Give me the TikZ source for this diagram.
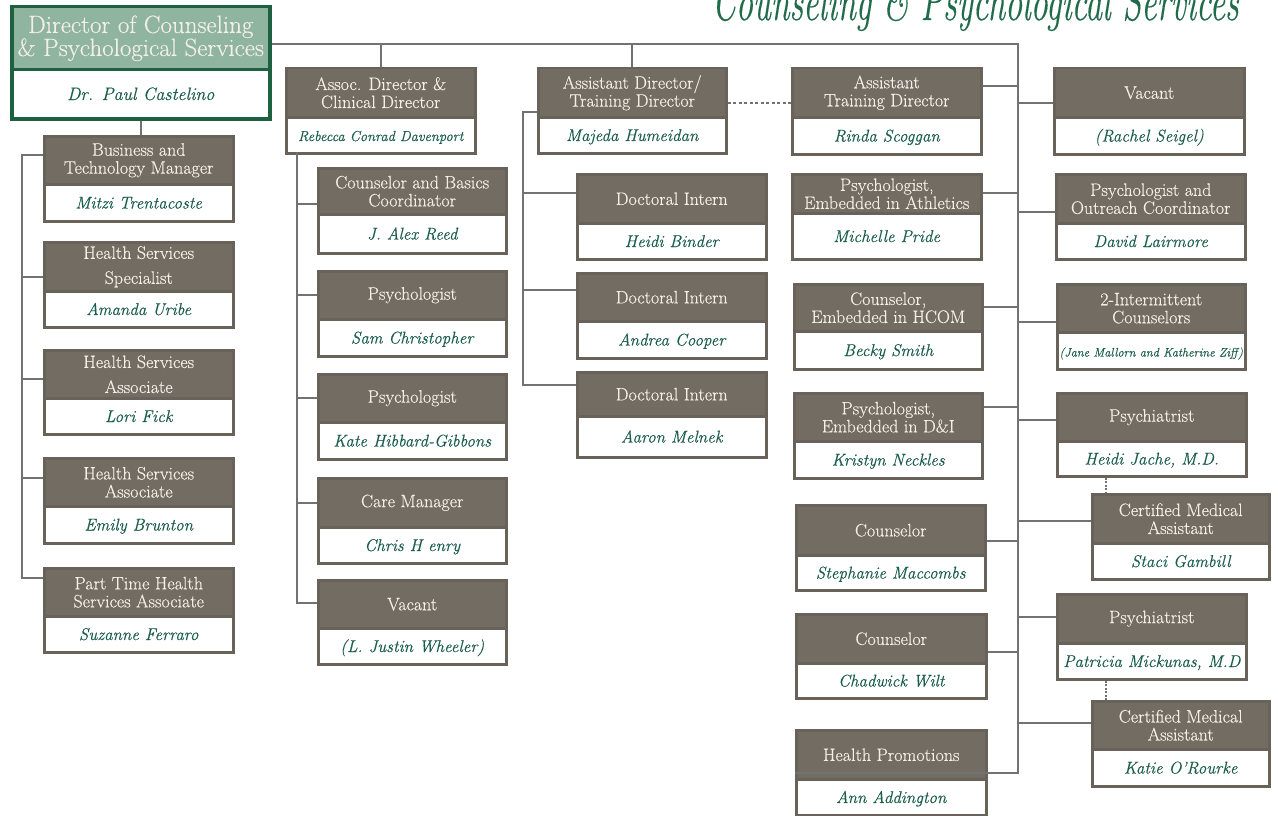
\documentclass[tikz,border=0pt]{standalone}
\usepackage{fontspec}
\newfontfamily\boxfont{Latin Modern Roman}[FakeBold=0.35]
\usetikzlibrary{calc}
\definecolor{boxd}{HTML}{736C63}
\definecolor{boxb}{HTML}{69625A}
\definecolor{headt}{HTML}{F3EFE6}
\definecolor{namet}{HTML}{1B5E4B}
\definecolor{linec}{HTML}{727272}
\definecolor{dirg}{HTML}{1D6140}
\definecolor{dirf}{HTML}{8FB49F}
\definecolor{titleg}{HTML}{1F6B4A}
\newcommand\orgbox[9][]{%
  \node[boxo, minimum width={(#5-#3)*1pt}, minimum height={(#7-#4)*1pt}] (#2) at (#3,#4) {};
  \node[boxh, minimum width={(#5-#3)*1pt}, minimum height={(#6-#4)*1pt}] (#2h) at (#3,#4) {};
  \node[htext] (#2t) at (#2h.center) {#8};
  \node[ntext,#1] (#2n) at ($(#2h.south)!0.5!(#2.south)$) {#9};
}
\begin{document}
\begin{tikzpicture}[x=1pt,y=-1pt,
  line/.style={draw=linec, line width=2pt},
  boxo/.style={draw=boxb, line width=2.5pt, fill=white, inner sep=0pt, anchor=north west},
  boxh/.style={draw=boxb, line width=2.5pt, fill=boxd, inner sep=0pt, anchor=north west},
  htext/.style={text=headt, font=\boxfont\fontsize{18}{18}\selectfont, align=center, inner sep=0pt},
  ntext/.style={text=namet, font=\boxfont\fontsize{17}{18}\selectfont\itshape, inner sep=0pt, text height=12pt, text depth=3pt},
  nsmall/.style={font=\boxfont\fontsize{14.5}{15}\selectfont\itshape},
  ntiny/.style={font=\boxfont\fontsize{12.3}{13}\selectfont\itshape},
  dirbox/.style={draw=dirg, line width=3.5pt, fill=white, inner sep=0pt, anchor=north west},
  dirhead/.style={draw=dirg, line width=3.5pt, fill=dirf, inner sep=0pt, anchor=north west},
  dirt/.style={text=headt, font=\boxfont\fontsize{25}{23}\selectfont, align=center, inner sep=0pt},
  dirn/.style={text=namet, font=\boxfont\fontsize{18}{20}\selectfont\itshape, inner sep=0pt, text height=12pt, text depth=4pt},
  titlestyle/.style={text=titleg, font=\boxfont\fontsize{54}{54}\selectfont\itshape, inner sep=0pt, xscale=0.63, anchor=base west}
]
\useasboundingbox (0,0) rectangle (1278,816);
\fill[white] (0,0) rectangle (1278,816);

% title (cut off at the top)
\node[titlestyle] (title) at (712,20) {Counseling \& Psychological Services};

% director
\node[dirbox, minimum width=258pt, minimum height=112pt] (dir) at (10,5) {};
\node[dirhead, minimum width=258pt, minimum height=63pt] (dirh) at (10,5) {};
\node[dirt] (dirt) at (dirh.center) {Director of Counseling\\\& Psychological Services};
\node[dirn] (dirn) at ($(dirh.south)!0.5!(dir.south)$) {Dr. Paul Castelino};

% column 1
\orgbox{bt}{43}{135}{232}{183}{220}{Business and\\Technology Manager}{Mitzi Trentacoste}
\orgbox{hss}{43}{241}{232}{290}{326}{Health Services\\[7pt]Specialist}{Amanda Uribe}
\orgbox{hsa1}{43}{349}{232}{397}{433}{Health Services\\[7pt]Associate}{Lori Fick}
\orgbox{hsa2}{43}{457}{232}{505}{542}{Health Services\\Associate}{Emily Brunton}
\orgbox{pt}{43}{567}{232}{615}{651}{Part Time Health\\Services Associate}{Suzanne Ferraro}

% column 2
\orgbox[nsmall]{ad}{285}{67}{474}{116}{152}{Assoc. Director \&\\Clinical Director}{Rebecca Conrad Davenport}
\orgbox{cb}{317}{167}{505}{213}{252}{Counselor and Basics\\Coordinator}{J. Alex Reed}
\orgbox{sc}{317}{270}{505}{318}{355}{Psychologist}{Sam Christopher}
\orgbox{kh}{317}{373}{505}{421}{458}{Psychologist}{Kate Hibbard-Gibbons}
\orgbox{cm}{317}{477}{505}{526}{562}{Care Manager}{Chris H enry}
\orgbox{v2}{317}{579}{505}{627}{663}{Vacant}{(L. Justin Wheeler)}

% column 3
\orgbox{asd}{537}{67}{725}{116}{152}{Assistant Director/\\Training Director}{Majeda Humeidan}
\orgbox{di1}{576}{173}{765}{222}{258}{Doctoral Intern}{Heidi Binder}
\orgbox{di2}{576}{272}{765}{320}{357}{Doctoral Intern}{Andrea Cooper}
\orgbox{di3}{576}{371}{765}{415}{456}{Doctoral Intern}{Aaron Melnek}

% column 4
\orgbox{atd}{791}{67}{980}{116}{153}{Assistant\\Training Director}{Rinda Scoggan}
\orgbox{ath}{791}{173}{980}{212}{258}{Psychologist,\\Embedded in Athletics}{Michelle Pride}
\orgbox{hc}{793}{283}{981}{330}{368}{Counselor,\\Embedded in HCOM}{Becky Smith}
\orgbox{dni}{793}{392}{981}{440}{477}{Psychologist,\\Embedded in D\&I}{Kristyn Neckles}
\orgbox{co1}{795}{504}{984}{554}{589}{Counselor}{Stephanie Maccombs}
\orgbox{co2}{795}{613}{985}{662}{697}{Counselor}{Chadwick Wilt}
\orgbox{hp}{795}{729}{985}{778}{814}{Health Promotions}{Ann Addington}

% column 5
\orgbox{vac}{1053}{67}{1243}{116}{153}{Vacant}{(Rachel Seigel)}
\orgbox{oc}{1055}{173}{1244}{222}{258}{Psychologist and\\Outreach Coordinator}{David Lairmore}
\orgbox[ntiny]{ic}{1056}{283}{1244}{331}{368}{2-Intermittent\\Counselors}{(Jane Mallorn and Katherine Ziff)}
\orgbox{py1}{1056}{392}{1245}{440}{475}{Psychiatrist}{Heidi Jache, M.D.}
\orgbox{cma1}{1091}{493}{1268}{542}{578}{Certified Medical\\Assistant}{Staci Gambill}
\orgbox{py2}{1056}{593}{1245}{642}{678}{Psychiatrist}{Patricia Mickunas, M.D}
\orgbox{cma2}{1091}{700}{1268}{748}{785}{Certified Medical\\Assistant}{Katie O’Rourke}

% connectors
\coordinate (busR) at (1018,44);
\coordinate (busL) at (22,155);
\coordinate (busA) at (297,152);
\coordinate (busM) at (523,112);

\draw[line] (dir.east |- busR) -- (busR) |- (hp.west);
\draw[line] (ad.north) -- (ad.north |- busR);
\draw[line] (asd.north) -- (asd.north |- busR);
\draw[line] (atd.east |- 0,86) -- (busR |- 0,86);
\draw[line] (ath.east |- 0,193) -- (busR |- 0,193);
\draw[line] (hc.east |- 0,307) -- (busR |- 0,307);
\draw[line] (dni.east |- 0,407) -- (busR |- 0,407);
\draw[line] (co1.east |- 0,541) -- (busR |- 0,541);
\draw[line] (co2.east |- 0,652) -- (busR |- 0,652);
\draw[line] (vac.west |- 0,103) -- (busR |- 0,103);
\draw[line] (oc.west |- 0,212) -- (busR |- 0,212);
\draw[line] (ic.west |- 0,322) -- (busR |- 0,322);
\draw[line] (py1.west |- 0,420) -- (busR |- 0,420);
\draw[line] (cma1.west |- 0,521) -- (busR |- 0,521);
\draw[line] (py2.west |- 0,617) -- (busR |- 0,617);
\draw[line] (cma2.west |- 0,723) -- (busR |- 0,723);

\draw[line] (dir.south) -- (dir.south |- bt.north);
\draw[line] (bt.west |- busL) -- (busL) |- (pt.west |- 0,578);
\draw[line] (busL |- 0,277) -- (hss.west |- 0,277);
\draw[line] (busL |- 0,379) -- (hsa1.west |- 0,379);
\draw[line] (busL |- 0,478) -- (hsa2.west |- 0,478);

\draw[line] (busA) |- (v2.west |- 0,603);
\draw[line] (busA |- 0,204) -- (cb.west |- 0,204);
\draw[line] (busA |- 0,295) -- (sc.west |- 0,295);
\draw[line] (busA |- 0,398) -- (kh.west |- 0,398);
\draw[line] (busA |- 0,503) -- (cm.west |- 0,503);

\draw[line] (asd.west |- busM) -- (busM) |- (di3.west |- 0,385);
\draw[line] (busM |- 0,193) -- (di1.west |- 0,193);
\draw[line] (busM |- 0,290) -- (di2.west |- 0,290);

\draw[line, line width=1.6pt, dash pattern=on 3pt off 2.5pt] (asd.east |- 0,103) -- (atd.west |- 0,103);
\draw[line, line width=1.6pt, dash pattern=on 2pt off 1.5pt] (py1.south -| 1106,0) -- (cma1.north -| 1106,0);
\draw[line, line width=1.6pt, dash pattern=on 2pt off 1.5pt] (py2.south -| 1106,0) -- (cma2.north -| 1106,0);
\end{tikzpicture}
\end{document}
